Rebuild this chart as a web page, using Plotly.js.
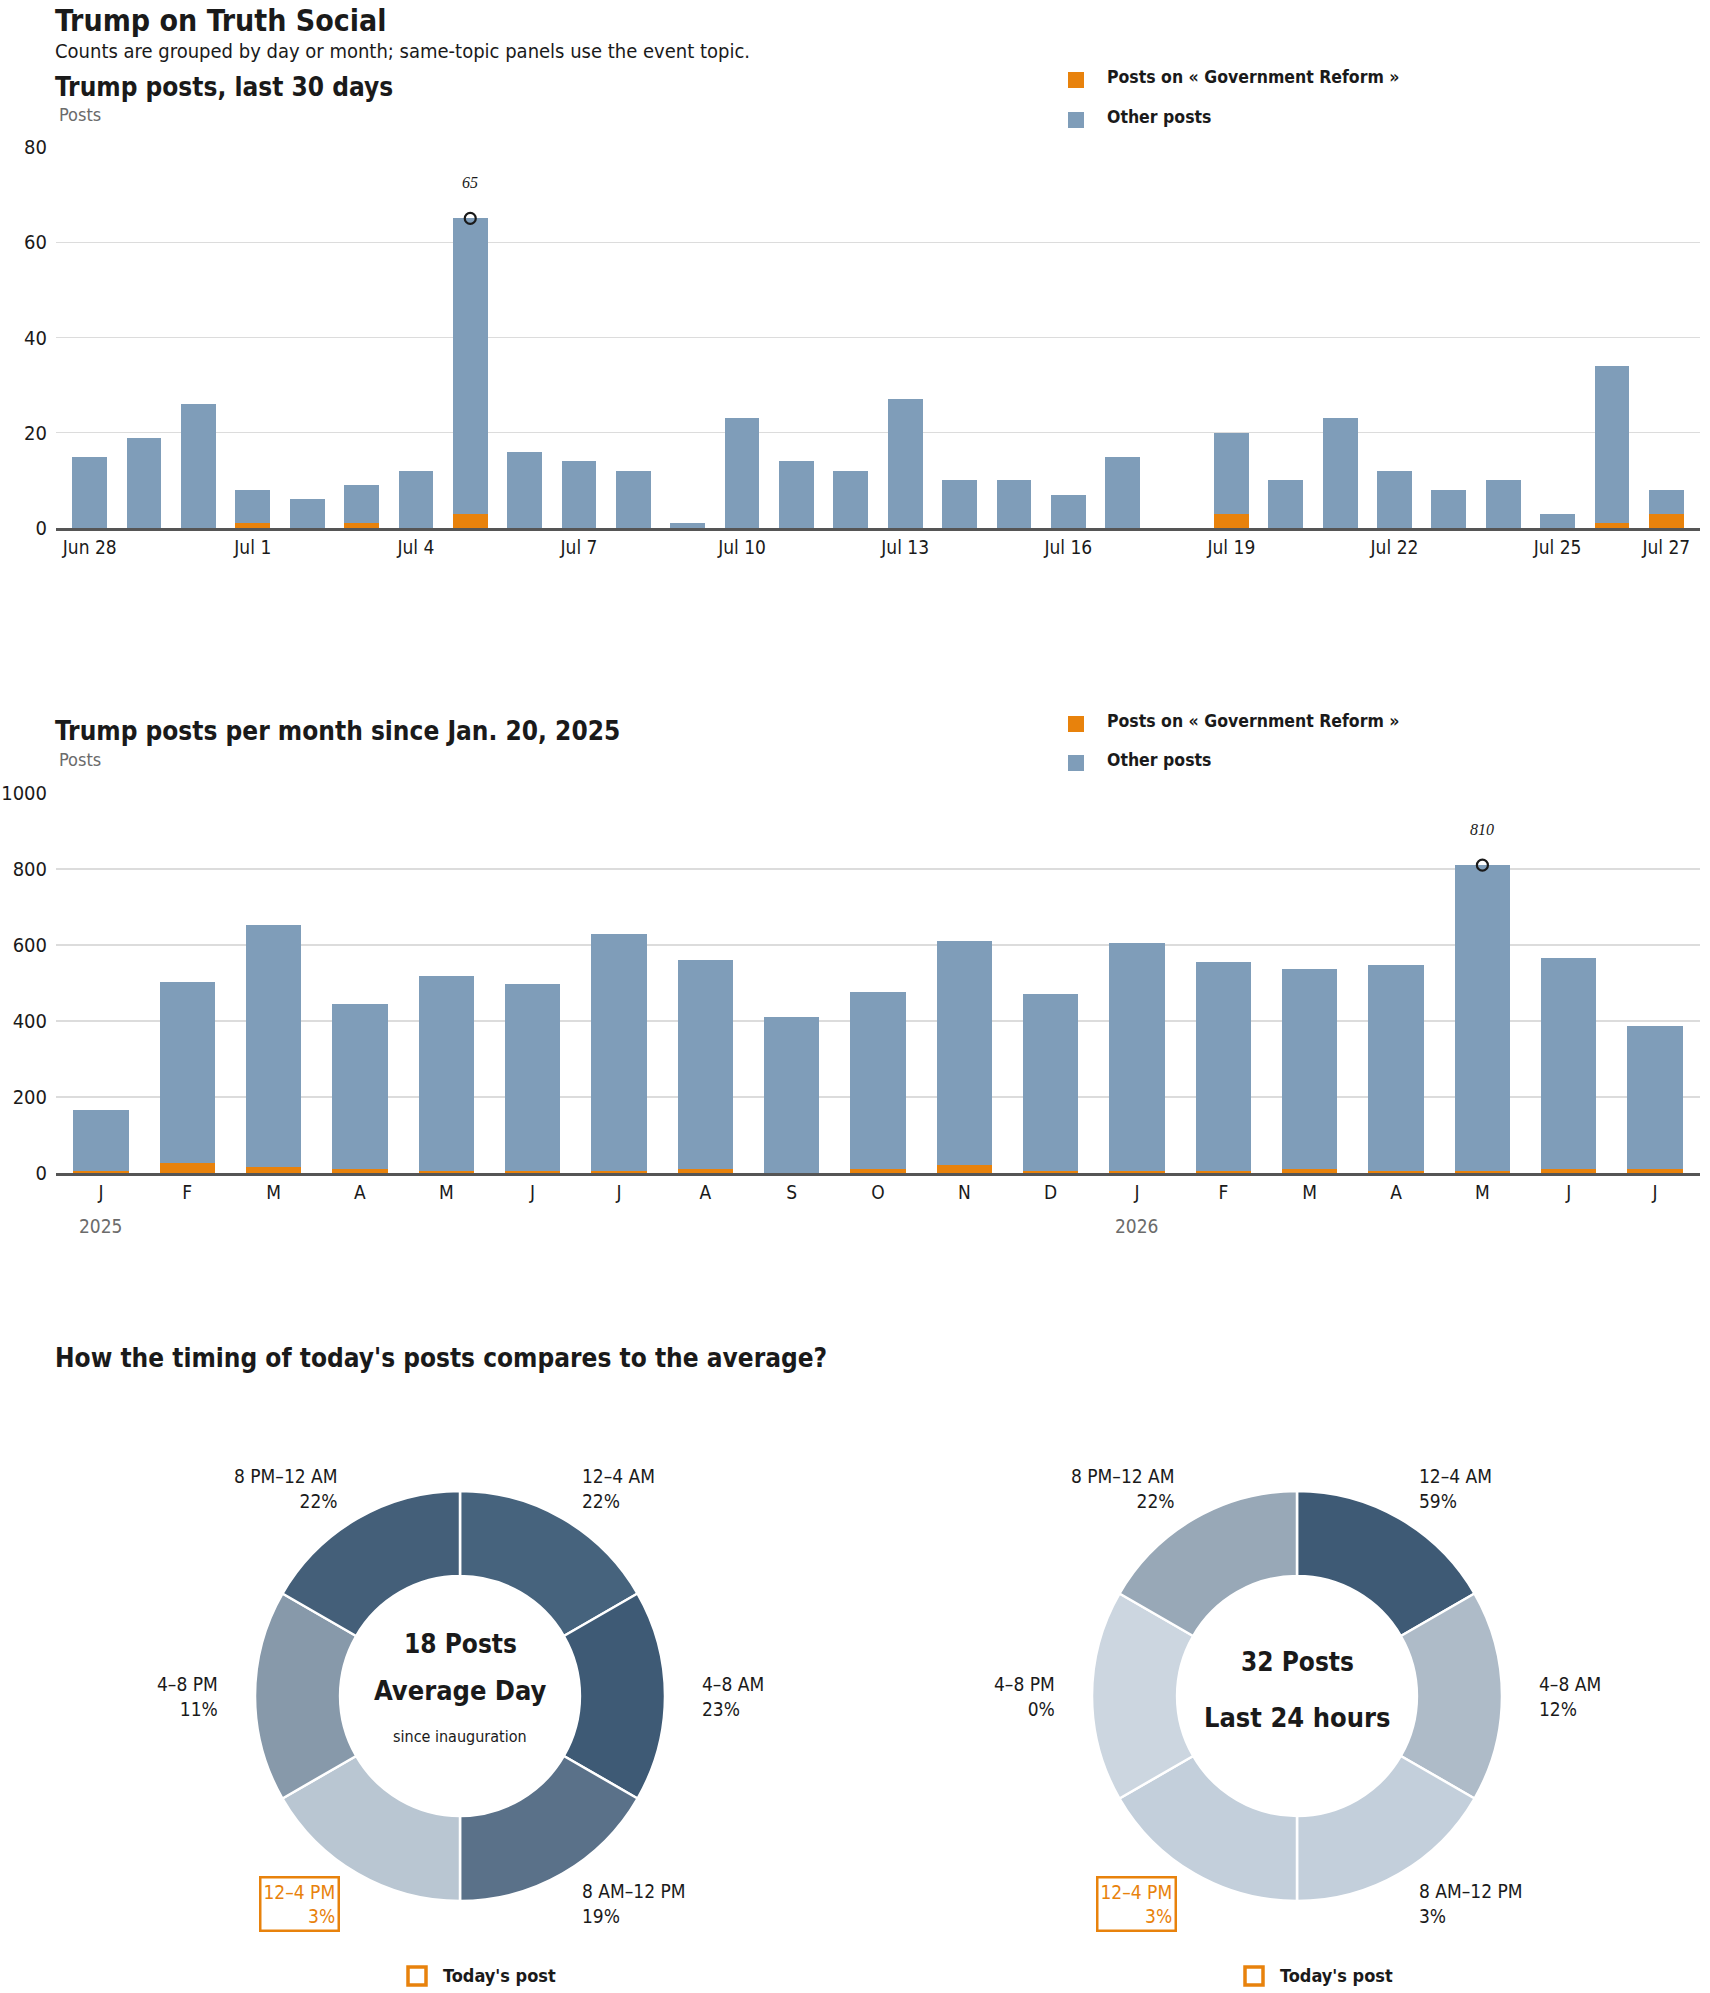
<!DOCTYPE html>
<html>
<head>
<meta charset="utf-8">
<script src="https://cdn.plot.ly/plotly-3.0.1.min.js"></script>
<style>
  body { margin: 0; background: #fff; }
  #chart { width: 1710px; height: 1993px; }
</style>
</head>
<body>
<div id="chart"></div>
<script>
// --- data ---
var days = ["Jun 28","Jun 29","Jun 30","Jul 1","Jul 2","Jul 3","Jul 4","Jul 5","Jul 6","Jul 7",
            "Jul 8","Jul 9","Jul 10","Jul 11","Jul 12","Jul 13","Jul 14","Jul 15","Jul 16","Jul 17",
            "Jul 18","Jul 19","Jul 20","Jul 21","Jul 22","Jul 23","Jul 24","Jul 25","Jul 26","Jul 27"];
var dailyTotal = [15,19,26,8,6,9,12,65,16,14,12,1,23,14,12,27,10,10,7,15,0,20,10,23,12,8,10,3,34,8];
var dailyTopic = [0,0,0,1,0,1,0,3,0,0,0,0,0,0,0,0,0,0,0,0,0,3,0,0,0,0,0,0,1,3];
var dayTicks = ["Jun 28","Jul 1","Jul 4","Jul 7","Jul 10","Jul 13","Jul 16","Jul 19","Jul 22","Jul 25","Jul 27"];

var months = ["2025-01","2025-02","2025-03","2025-04","2025-05","2025-06","2025-07","2025-08","2025-09","2025-10",
              "2025-11","2025-12","2026-01","2026-02","2026-03","2026-04","2026-05","2026-06","2026-07"];
var monthLetters = ["J","F","M","A","M","J","J","A","S","O","N","D","J","F","M","A","M","J","J"];
var monthlyTotal = [165,503,653,446,519,498,630,561,411,477,611,472,606,556,538,548,810,567,388];
var monthlyTopic = [6,26,16,11,4,4,6,10,1,10,22,4,4,4,10,4,6,10,10];
var yearLabels = ["2025","2026"];
var yearStart = ["2025-01","2026-01"];

var topicName = "Posts on « Government Reform »";
var otherName = "Other posts";

var slots = ["12–4 AM","4–8 AM","8 AM–12 PM","12–4 PM","4–8 PM","8 PM–12 AM"];
var avgPct = [22,23,19,3,11,22];
var lastPct = [59,12,3,3,0,22];
var todaySlot = "12–4 PM";

// --- styles ---
var W = 1710, H = 1993;
var FONT = '"Liberation Sans Narrow", "DejaVu Sans Condensed", "Liberation Sans", Arial, sans-serif';
var ORANGE = "#e8820c", BLUE = "#7f9db9", INK = "#1a1a1a", GREY = "#6b6b6b";
var avgColors = ["#46637d","#3e5a75","#5a7189","#b9c6d2","#8799aa","#445f79"];
var lastColors = ["#3e5a75","#aebbc8","#c3cfdb","#c3cfdb","#ccd6e0","#98a8b7"];

function py(p) { return 1 - p / H; }
function pxX(p) { return p / W; }

function minus(a, b) { return a.map(function (v, i) { return v - b[i]; }); }
function argmax(a) { var m = 0; a.forEach(function (v, i) { if (v > a[m]) m = i; }); return m; }

var data = [];
var annotations = [];
var shapes = [];

function text(x, y, t, size, opts) {
  var a = Object.assign({
    xref: "paper", yref: "paper", x: pxX(x), y: py(y), text: t, showarrow: false,
    xanchor: "left", yanchor: "middle",
    font: { family: FONT, size: size, color: INK }
  }, opts || {});
  annotations.push(a);
}
function bold(size) { return { font: { family: FONT, size: size, color: INK, weight: 700 } }; }

// headings
text(53, 1, "Trump on Truth Social", 30, Object.assign({ yanchor: "top" }, bold(30)));
text(53, 51, "Counts are grouped by day or month; same-topic panels use the event topic.", 20);

function legendBlock(y1, y2) {
  [[y1, ORANGE, topicName], [y2, BLUE, otherName]].forEach(function (r) {
    shapes.push({ type: "rect", xref: "paper", yref: "paper", x0: pxX(1068), x1: pxX(1084),
      y0: py(r[0] + 11), y1: py(r[0] - 5), fillcolor: r[1], line: { width: 0 } });
    text(1105, r[0], r[2], 17.5, bold(17.5));
  });
}

function barPanel(n, cats, total, topic, ticks, ticktext, xr, yTop, yBot, ymax, dtick, title, titleY, legY) {
  var xa = n === 1 ? "x" : "x" + n, ya = n === 1 ? "y" : "y" + n;
  data.push({ type: "bar", x: cats, y: topic, name: topicName, xaxis: xa, yaxis: ya,
    marker: { color: ORANGE }, hoverinfo: "x+y" });
  data.push({ type: "bar", x: cats, y: minus(total, topic), name: otherName, xaxis: xa, yaxis: ya,
    marker: { color: BLUE }, hoverinfo: "x+y" });
  var k = argmax(total);
  data.push({ type: "scatter", mode: "markers", x: [cats[k]], y: [total[k]], xaxis: xa, yaxis: ya,
    marker: { symbol: "circle-open", size: 11, color: INK, line: { width: 2.2, color: INK } },
    hoverinfo: "skip" });
  annotations.push({ xref: xa, yref: ya, x: cats[k], y: total[k], text: String(total[k]),
    showarrow: false, yshift: 36, font: { family: "Liberation Serif, serif", size: 16, color: INK, style: "italic" } });
  text(53, titleY, title, 26, bold(26));
  text(57, titleY + 28, "Posts", 18, { font: { family: FONT, size: 18, color: GREY } });
  legendBlock(legY[0], legY[1]);
  var ax = {};
  ax["xaxis" + (n === 1 ? "" : n)] = {
    domain: [pxX(56), pxX(1700)], anchor: ya, type: "category", range: xr, tickmode: "array",
    tickvals: ticks, ticktext: ticktext, showgrid: false, showline: true, linecolor: "#555",
    linewidth: 3, ticks: "", tickfont: { family: FONT, size: 19, color: INK }, fixedrange: true
  };
  ax["yaxis" + (n === 1 ? "" : n)] = {
    domain: [py(yBot), py(yTop)], anchor: xa, range: [0, ymax], dtick: dtick, showgrid: true,
    gridcolor: "#dcdcdc", gridwidth: 1.3, zeroline: false, showline: false, ticks: "",
    ticklabelstandoff: 8, tickfont: { family: FONT, size: 20, color: INK }, fixedrange: true
  };
  return ax;
}

var ax1 = barPanel(1, days, dailyTotal, dailyTopic, dayTicks, dayTicks, [-0.62, 29.62], 147, 528, 80, 20,
  "Trump posts, last 30 days", 87, [77, 117]);
var ax2 = barPanel(2, months, monthlyTotal, monthlyTopic, months, monthLetters, [-0.52, 18.52], 793, 1173, 1000, 200,
  "Trump posts per month since Jan. 20, 2025", 731, [721, 760]);

yearLabels.forEach(function (y, i) {
  annotations.push({ xref: "x2", yref: "paper", x: yearStart[i], y: py(1226), text: y, showarrow: false,
    xanchor: "center", yanchor: "middle", font: { family: FONT, size: 19, color: GREY } });
});

text(53, 1358, "How the timing of today's posts compares to the average?", 26, bold(26));

// donuts
function donut(cx, cy, pct, colors, centerLines) {
  var R = 205, LR = 240;
  data.push({ type: "pie", labels: slots, values: slots.map(function () { return 1; }),
    sort: false, direction: "clockwise", rotation: 0, hole: 0.585, textinfo: "none",
    hoverinfo: "label", showlegend: false,
    marker: { colors: colors, line: { color: "#fff", width: 2.5 } },
    domain: { x: [pxX(cx - R), pxX(cx + R)], y: [py(cy + R), py(cy - R)] } });
  slots.forEach(function (s, i) {
    var th = (i + 0.5) * Math.PI / 3;
    var x = cx + LR * Math.sin(th), y = cy - LR * Math.cos(th);
    var right = Math.sin(th) > 0;
    var hi = s === todaySlot;
    annotations.push({ xref: "paper", yref: "paper", x: pxX(x), y: py(y),
      text: s + "<br>" + pct[i] + "%", showarrow: false, align: right ? "left" : "right",
      xanchor: right ? "left" : "right", yanchor: "middle",
      font: { family: FONT, size: 19, color: hi ? ORANGE : INK },
      bordercolor: hi ? ORANGE : "rgba(0,0,0,0)", borderwidth: hi ? 2.5 : 0, borderpad: 2 });
  });
  centerLines.forEach(function (c) {
    annotations.push({ xref: "paper", yref: "paper", x: pxX(cx), y: py(cy + c[0]), text: c[1],
      showarrow: false, xanchor: "center", yanchor: "middle",
      font: { family: FONT, size: c[2], color: INK, weight: c[3] ? 700 : 400 } });
  });
  shapes.push({ type: "rect", xref: "paper", yref: "paper", x0: pxX(cx - 52), x1: pxX(cx - 34),
    y0: py(1985), y1: py(1967), fillcolor: "rgba(0,0,0,0)", line: { color: ORANGE, width: 3.5 } });
  text(cx - 19, 1975, "Today's post", 18, bold(18));
}

donut(460, 1696, avgPct, avgColors, [[-52, "18 Posts", 26, true], [-6, "Average Day", 27, true], [40, "since inauguration", 16, false]]);
donut(1297, 1696, lastPct, lastColors, [[-34, "32 Posts", 26, true], [21, "Last 24 hours", 27, true]]);

var layout = Object.assign({
  width: W, height: H, margin: { l: 0, r: 0, t: 0, b: 0 },
  paper_bgcolor: "#fff", plot_bgcolor: "#fff",
  font: { family: FONT, color: INK },
  barmode: "stack", bargap: 0.36, showlegend: false,
  annotations: annotations, shapes: shapes
}, ax1, ax2);

Plotly.newPlot("chart", data, layout, { displayModeBar: false, staticPlot: true });
</script>
</body>
</html>
